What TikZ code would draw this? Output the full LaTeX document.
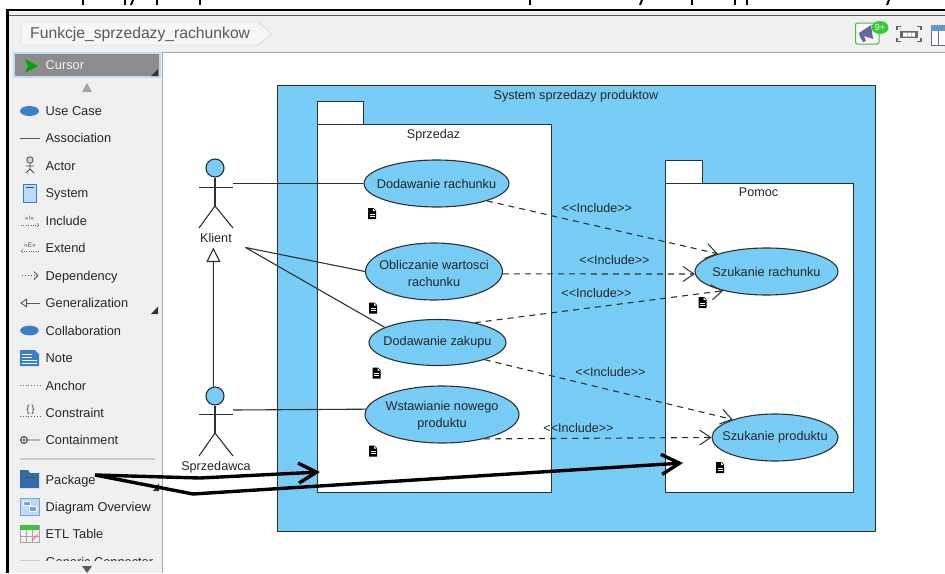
\documentclass[tikz,border=0pt]{standalone}
\usepackage{fontspec}
\setmainfont{Liberation Sans}
\usetikzlibrary{arrows.meta,shapes.geometric}
\definecolor{skyFill}{HTML}{77CDF5}
\definecolor{panelGrey}{HTML}{F0F0F0}
\definecolor{frameGrey}{HTML}{A3A9B0}
\definecolor{lineDark}{HTML}{303030}
\definecolor{iconBlue}{HTML}{3D7FC6}
\definecolor{iconPale}{HTML}{BCDCF5}
\newcommand{\incl}{<{}<Include>{}>}
\tikzset{
  usecase/.style={ellipse,draw=lineDark,fill=skyFill,line width=1.1pt},
  usecasetext/.style={align=center,text=black!85,font=\fontsize{12.7}{17}\selectfont},
  canvaslabel/.style={text=black!85,text height=9pt,text depth=0pt,font=\fontsize{12.6}{15}\selectfont},
  paletteitem/.style={anchor=west,text=black!85,text height=9pt,text depth=0pt,font=\fontsize{12.8}{15}\selectfont},
  assoc/.style={draw=lineDark,line width=1.1pt},
  includeline/.style={draw=lineDark,line width=1.1pt,dash pattern=on 6pt off 5pt,
    -{Straight Barb[length=11pt,width=15pt,line width=1pt]}},
  handarrow/.style={draw=black,line width=3.4pt,line join=round,
    -{Straight Barb[length=18pt,width=20pt,line width=3.4pt]}},
  noteicon/.pic={
    \fill [black] (-4,-5.5) -- (1.5,-5.5) -- (4,-3) -- (4,5.5) -- (-4,5.5) -- cycle;
    \fill [white] (1,-5) -- (1,-2.5) -- (3.5,-2.5) -- cycle;
    \draw [white,line width=0.7pt] (-2.5,0.5) -- (2.5,0.5) (-2.5,2.8) -- (2.5,2.8);
  }
}
\begin{document}
\begin{tikzpicture}[x=1pt,y=-1pt]
\tikzstyle{every node}+=[inner sep=0pt]
\useasboundingbox (0,0) rectangle (945,573);
\clip (0,0) rectangle (945,573);
\fill [white] (0,0) rectangle (945,573);
\fill [panelGrey] (8,12) rectangle (945,573);
\fill [white] (162,52) rectangle (945,573);
\draw [frameGrey,line width=1pt] (162,52) -- (945,52);
\draw [frameGrey,line width=1pt] (162,52) -- (162,573);
\draw [black!65,line width=1.2pt] (9,15.5) -- (945,15.5);
\draw [black,line width=2.6pt] (7.5,573) -- (7.5,10) -- (945,10);
\foreach \stem in {83,125,157,200,530,692,735,747}
  \draw [black,line width=2pt] (\stem,0) -- (\stem,5);
\foreach \stem in {133,642,889}
  \draw [black,line width=2pt] (\stem,0) -- (\stem-2,5);
\draw [black!20,fill=panelGrey!60!white] (21,22) -- (258,22) -- (272,34) -- (258,45) -- (21,45) -- cycle;
\node [anchor=west,text=black!65,font=\fontsize{15.7}{18}\selectfont] (diagramName) at (30,34) {Funkcje\_sprzedazy\_rachunkow};
\draw [green!45!gray,fill=panelGrey!50!white,rounded corners=2pt,line width=1pt] (855.5,23) rectangle (879,44);
\fill [black!65!blue!60!white] (859,33) -- (871,25) -- (873,39) -- (864,36) -- (866,41) -- (863,42) -- (860,37) -- cycle;
\fill [green!60!gray] (880,27.5) ellipse (8.5 and 6.5);
\node [text=white,font=\fontsize{9}{10}\selectfont] (noticeCount) at (880,27.5) {9+};
\draw [black!60,line width=1.2pt] (897,30) -- (897,26.5) -- (901,26.5) (917,26.5) -- (921,26.5) -- (921,30) (921,38) -- (921,41.5) -- (917,41.5) (901,41.5) -- (897,41.5) -- (897,38);
\fill [black!60] (900,31) rectangle (918,38);
\fill [white] (903,32.5) rectangle (907,36.5) (907.5,32.5) rectangle (911,36.5) (911.5,32.5) rectangle (915,36.5);
\draw [black!60!blue!60!white,fill=white,line width=1pt] (931,26) rectangle (950,45);
\fill [iconBlue!80!white] (931,25) rectangle (950,31);
\draw [black!60!blue!60!white,line width=1pt] (938,31) -- (938,45);
\draw [iconPale,fill=black!45,line width=1.4pt] (14,53) rectangle (160,77);
\fill [green!65!black] (25,59) -- (38,66) -- (25,73) -- (28,66) -- cycle;
\fill [black!80] (151,76) -- (158,76) -- (158,69) -- cycle;
\node [paletteitem,text=white!90!gray] (cursorItem) at (45.5,65) {Cursor};
\fill [black!35] (82,92) -- (92,92) -- (87,83) -- cycle;
\fill [iconBlue] (29.5,111) ellipse (9.5 and 5);
\node [paletteitem] (useCaseItem) at (45.5,111) {Use Case};
\draw [black!65,line width=1pt] (20,138) -- (40,138);
\node [paletteitem] (associationItem) at (45.5,138) {Association};
\draw [black!70,fill=iconPale,line width=0.8pt] (30,160) circle (3.2);
\draw [black!70,line width=0.8pt] (30,163) -- (30,169) (26,166) -- (34,166) (26,173) -- (30,169) -- (34,173);
\node [paletteitem] (actorItem) at (45.5,166) {Actor};
\draw [iconBlue,fill=iconPale,line width=1pt] (23.5,184) rectangle (36,202);
\draw [black!70,line width=1pt] (26,187) -- (33.5,187);
\node [paletteitem] (systemItem) at (45.5,193) {System};
\node [text=black!70,font=\fontsize{6.5}{7}\selectfont] (includeGlyph) at (29.5,218.5) {«!»};
\draw [black!60,dotted,-{Straight Barb[length=2pt,width=4pt]}] (21,225) -- (39,225);
\node [paletteitem] (includeItem) at (45.5,220.5) {Include};
\node [text=black!70,font=\fontsize{6.5}{7}\selectfont] (extendGlyph) at (30,245) {«E»};
\draw [black!60,dotted,{Straight Barb[length=2pt,width=4pt]}-] (21,251) -- (39,251);
\node [paletteitem] (extendItem) at (45.5,248) {Extend};
\draw [black!65,dotted,line width=0.9pt,-{Straight Barb[length=4pt,width=8pt,line width=0.9pt]}] (22,275.5) -- (38.5,275.5);
\node [paletteitem] (dependencyItem) at (45.5,275.5) {Dependency};
\draw [black!65,line width=0.9pt,{Triangle[open,length=7pt,width=9pt,line width=0.9pt]}-] (20,303) -- (40,303);
\node [paletteitem] (generalizationItem) at (45.5,303) {Generalization};
\fill [black!80] (151,314) -- (158,314) -- (158,306.5) -- cycle;
\fill [iconBlue] (29.5,330.5) ellipse (9.5 and 5);
\draw [white,dash pattern=on 1pt off 1.5pt,line width=0.5pt] (29.5,330.5) ellipse (9.5 and 5);
\node [paletteitem] (collaborationItem) at (45.5,330.5) {Collaboration};
\fill [iconBlue] (20,350) -- (35,350) -- (39,354) -- (39,366) -- (20,366) -- cycle;
\draw [white,line width=0.7pt] (22,354) -- (32,354) (22,357) -- (32,357) (22,360) -- (37,360) (22,363) -- (37,363);
\node [paletteitem] (noteItem) at (45.5,358) {Note};
\draw [black!55,dotted,line width=0.8pt] (20,385) -- (40,385);
\node [paletteitem] (anchorItem) at (45.5,385.5) {Anchor};
\node [text=black!75,font=\fontsize{10}{11}\selectfont] (constraintGlyph) at (30.5,410) {\{\,\}};
\draw [black!60,dotted,line width=0.8pt] (20,416.5) -- (40,416.5);
\node [paletteitem] (constraintItem) at (45.5,412.5) {Constraint};
\draw [black!70,line width=0.9pt] (24,440) circle (3.5) (20.5,440) -- (40,440) (24,436.5) -- (24,443.5);
\node [paletteitem] (containmentItem) at (45.5,440) {Containment};
\draw [black!20,line width=1.6pt] (20,459) -- (155,459);
\fill [iconBlue!85!black] (20,470) -- (28,470) -- (30,473) -- (39,473) -- (39,488) -- (20,488) -- cycle;
\draw [black!70,line width=1pt] (25,477) -- (34,477);
\node [paletteitem] (packageItem) at (45.5,479.5) {Package};
\fill [black!80] (153,491) -- (159,491) -- (159,483.5) -- cycle;
\draw [iconBlue!70!white,fill=iconPale,line width=0.8pt] (20,498) rectangle (39,515);
\draw [white,fill=iconBlue!70!white,line width=0.5pt] (23,501) rectangle (30,505) (29,506) rectangle (36,511);
\node [paletteitem] (overviewItem) at (45.5,506.5) {Diagram Overview};
\draw [black!35,fill=panelGrey,line width=0.8pt] (20,525) rectangle (39,542);
\fill [green!50!gray] (20,525) rectangle (39,530);
\draw [black!35,line width=0.6pt] (26,530) -- (26,542) (32,530) -- (32,542) (20,536) -- (39,536);
\draw [red!60,line width=0.8pt] (32,541) -- (38,534);
\node [paletteitem] (etlItem) at (45.5,534) {ETL Table};
\begin{scope}
\clip (14,552) rectangle (160,560);
\draw [black!20,line width=1pt] (20,560) -- (40,560);
\node [paletteitem] (genericItem) at (45.5,561.5) {Generic Connector};
\end{scope}
\fill [black!65] (82,566) -- (92,566) -- (87,573) -- cycle;
\draw [lineDark,fill=skyFill,line width=1pt] (277.5,85) rectangle (875,531);
\node [canvaslabel] (systemTitle) at (576,95) {System sprzedazy produktow};
\draw [lineDark,fill=white,line width=1pt] (317,101) rectangle (363,124);
\draw [lineDark,fill=white,line width=1pt] (317,124) rectangle (551,492);
\node [canvaslabel] (sprzedazTitle) at (433.5,133.5) {Sprzedaz};
\draw [lineDark,fill=white,line width=1pt] (665.5,160) rectangle (702,183);
\draw [lineDark,fill=white,line width=1pt] (665.5,183) rectangle (853,492);
\node [canvaslabel] (pomocTitle) at (758.5,192) {Pomoc};
\node [usecase,minimum width=145pt,minimum height=47pt,label={[usecasetext]center:Dodawanie rachunku}] (dodRachunku) at (436.5,183.5) {};
\node [usecase,minimum width=137pt,minimum height=57pt,label={[usecasetext,yshift=-1.5pt]center:Obliczanie wartosci\\rachunku}] (oblWartosci) at (434,271.5) {};
\node [usecase,minimum width=137pt,minimum height=46pt,label={[usecasetext]center:Dodawanie zakupu}] (dodZakupu) at (437.5,342.5) {};
\node [usecase,minimum width=154pt,minimum height=57pt,label={[usecasetext,yshift=-1.5pt]center:Wstawianie nowego\\produktu}] (wstProduktu) at (442,414.5) {};
\node [usecase,minimum width=143pt,minimum height=47pt,label={[usecasetext]center:Szukanie rachunku}] (szukRachunku) at (766.5,271.5) {};
\node [usecase,minimum width=126pt,minimum height=47pt,label={[usecasetext]center:Szukanie produktu}] (szukProduktu) at (775,437.5) {};
\node [circle,draw=lineDark,fill=skyFill,line width=1.1pt,minimum size=18pt] (klientHead) at (215,168) {};
\draw [lineDark,line width=1.2pt] (klientHead) -- (215,206);
\draw [lineDark,line width=1.1pt] (199,187.5) -- (233,187.5);
\draw [lineDark,line width=1.1pt] (199,228) -- (215,206) -- (233,228);
\node [canvaslabel] (klientLabel) at (216,237.5) {Klient};
\node [circle,draw=lineDark,fill=skyFill,line width=1.1pt,minimum size=18pt] (sprzedawcaHead) at (215,396) {};
\draw [lineDark,line width=1.2pt] (sprzedawcaHead) -- (215,433);
\draw [lineDark,line width=1.1pt] (199,414.5) -- (233,414.5);
\draw [lineDark,line width=1.1pt] (199,456) -- (215,433) -- (233,456);
\node [canvaslabel] (sprzedawcaLabel) at (216,465.5) {Sprzedawca};
\coordinate (klientArm) at (233,183.5);
\coordinate (klientFork) at (245.5,247.5);
\coordinate (klientTip) at (213.4,247.5);
\coordinate (sprzedawcaArm) at (233,410);
\draw [assoc] (klientArm) -- (dodRachunku.west);
\draw [assoc] (klientFork) -- (oblWartosci.west);
\draw [assoc] (klientFork) -- (dodZakupu.164);
\draw [assoc] (sprzedawcaArm) -- (wstProduktu.176.6);
\draw [lineDark,line width=1.1pt,-{Triangle[open,length=14.5pt,width=14pt,line width=1.1pt]}] (sprzedawcaHead.100) -- (klientTip);
\draw [includeline] (dodRachunku.-19) -- (szukRachunku.160);
\draw [includeline] (oblWartosci.-2) -- (szukRachunku.182);
\draw [includeline] (dodZakupu.28) -- (szukRachunku.204.6);
\draw [includeline] (dodZakupu.-20) -- (szukProduktu.157.6);
\draw [includeline] (wstProduktu.-30) -- (szukProduktu.west);
\node [canvaslabel] (includeA) at (597,207.5) {\incl};
\node [canvaslabel] (includeB) at (614.5,259.5) {\incl};
\node [canvaslabel] (includeC) at (596.5,292.5) {\incl};
\node [canvaslabel] (includeD) at (610.5,372) {\incl};
\node [canvaslabel] (includeE) at (578.5,427.5) {\incl};
\pic at (372,213.5) {noteicon};
\pic at (373,308) {noteicon};
\pic at (376.5,373) {noteicon};
\pic at (373,451) {noteicon};
\pic at (702.5,302.5) {noteicon};
\pic at (720,467.5) {noteicon};
\coordinate (packageStart) at (95,475);
\coordinate (packageBendA) at (200,478);
\coordinate (sprzedazTarget) at (320,472);
\coordinate (packageBendB) at (193,494);
\coordinate (pomocTarget) at (683,463);
\draw [handarrow] (packageStart) -- (packageBendA) -- (sprzedazTarget);
\draw [handarrow] (packageStart) -- (packageBendB) -- (pomocTarget);
\end{tikzpicture}
\end{document}
